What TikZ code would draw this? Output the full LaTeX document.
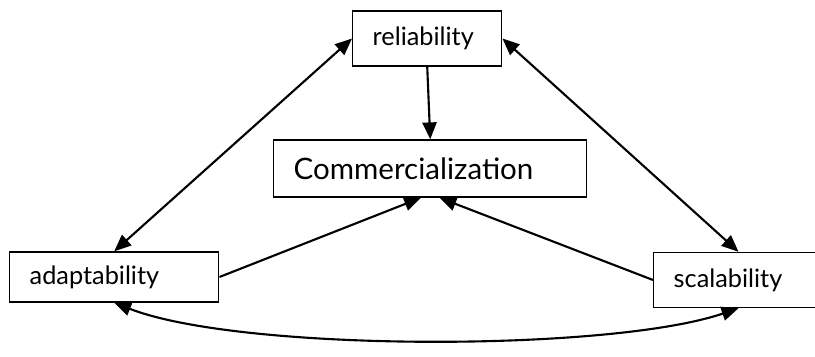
\documentclass[tikz,border=0pt]{standalone}
\usepackage{fontspec}
\setmainfont{Lato}
\usetikzlibrary{positioning,arrows.meta}
\tikzstyle{box} = [draw,line width=1pt,anchor=west,align=left,
                   inner xsep=0.5cm,minimum height=1.375cm]

\begin{document}
\begin{tikzpicture}[
      x=0.025cm, y=-0.025cm,
      ->,
      line width=1.5pt,
      >={Triangle[length=12pt,width=10pt]},
      font=\fontsize{18}{21}\selectfont]

     \useasboundingbox (0,0) rectangle (815,356);
     \clip (0,0) rectangle (815,356);

     \node[box,text width=2.725cm]  (rel)   at (352,38.5)  {reliability};
     \node[box,text width=6.825cm,minimum height=1.425cm,
           font=\fontsize{21}{24}\selectfont] (comm) at (273,168.5) {Commercialization};
     \node[box,text width=4.225cm,minimum height=1.25cm] (adapt) at (9,277) {adaptability};
     \node[box,text width=4cm]      (scal)  at (653,280)   {scalability};

     \path
       (rel.south) edge (comm.north)
       (adapt.east) edge ([xshift=-0.23cm]comm.south)
       (scal.west)  edge ([xshift=0.23cm]comm.south)
       (rel.west)   edge [<->] (adapt.north)
       (rel.east)   edge [<->] ([xshift=-0.38cm]scal.north)
       ;

     \draw[<->] (adapt.south) .. controls (240,352) and (610,352)
                .. ([xshift=-0.38cm]scal.south);

  \end{tikzpicture}
\end{document}
